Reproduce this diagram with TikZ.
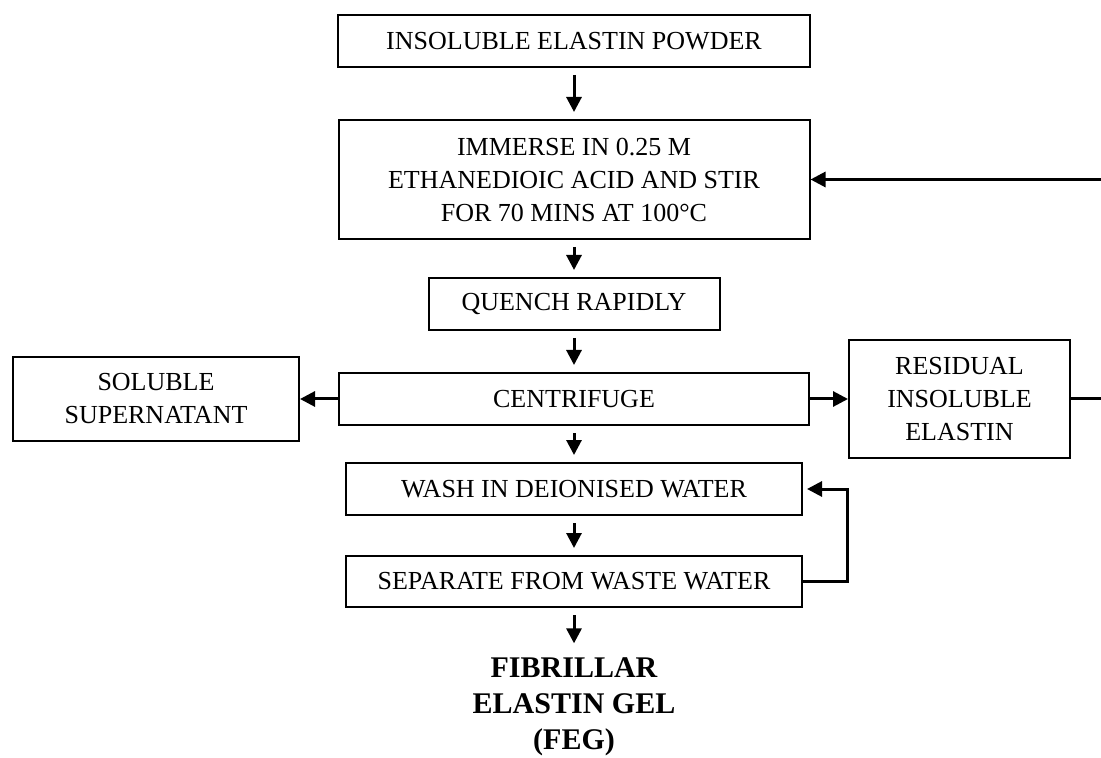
\documentclass[tikz,border=0pt]{standalone}
\usepackage{fontspec}
\setmainfont{Liberation Serif}
\usetikzlibrary{arrows.meta}

\begin{document}
\begin{tikzpicture}
\tikzstyle{every node}+=[font=\fontsize{13}{16.5}\selectfont]
\tikzstyle{stage}=[draw, line width=1pt, align=center, inner sep=0pt]
\tikzstyle{flow}=[line width=1.5pt, -{Triangle[length=7.5pt,width=7.5pt]}]
\tikzstyle{gap}=[shorten <=3.5pt, shorten >=3.5pt]

\useasboundingbox (0,0) rectangle (550.5pt,-379pt);

\node[stage, minimum width=236pt, minimum height=26pt] (powder) at (287pt,-20.5pt) {INSOLUBLE ELASTIN POWDER};
\node[stage, minimum width=235.5pt, minimum height=59.5pt] (immerse) [below of=powder, node distance=69.25pt] {IMMERSE IN 0.25 M\\ETHANEDIOIC ACID AND STIR\\FOR 70 MINS AT 100°C};
\node[stage, minimum width=145.5pt, minimum height=26pt] (quench) [below of=immerse, node distance=62.25pt] {QUENCH RAPIDLY};
\node[stage, minimum width=235pt, minimum height=26pt] (centrifuge) [below of=quench, node distance=47.5pt] {CENTRIFUGE};
\node[stage, minimum width=143pt, minimum height=42pt] (soluble) [left of=centrifuge, node distance=209pt] {SOLUBLE\\SUPERNATANT};
\node[stage, minimum width=110.5pt, minimum height=59pt] (residual) [right of=centrifuge, node distance=192.75pt] {RESIDUAL\\INSOLUBLE\\ELASTIN};
\node[stage, minimum width=228pt, minimum height=26pt] (wash) [below of=centrifuge, node distance=45pt] {WASH IN DEIONISED WATER};
\node[stage, minimum width=228pt, minimum height=25.5pt] (separate) [below of=wash, node distance=46.25pt] {SEPARATE FROM WASTE WATER};
\node (feg) [below of=separate, node distance=62.5pt, align=center, font=\bfseries\fontsize{15}{18}\selectfont] {FIBRILLAR\\ELASTIN GEL\\(FEG)};

\path[flow]
  (powder) edge[gap] (immerse)
  (immerse) edge[gap] (quench)
  (quench) edge[gap] (centrifuge)
  (centrifuge) edge[gap] (wash)
  (wash) edge[gap] (separate)
  (separate) edge[gap] (feg)
  (centrifuge) edge (soluble)
  (centrifuge) edge (residual)
;

% recycle loops
\draw[flow] (residual.east) -- ++(20pt,0) |- (immerse.east);
\draw[flow, shorten >=2pt] (separate.east) -- ++(22pt,0) |- (wash.east);
\end{tikzpicture}
\end{document}
